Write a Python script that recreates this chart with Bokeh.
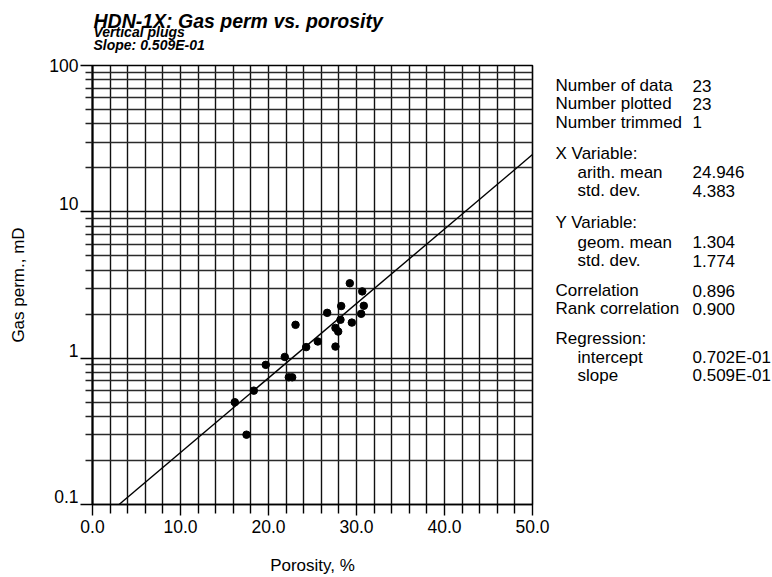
import math
from bokeh.plotting import figure
from bokeh.layouts import column, row
from bokeh.models import Range1d, FixedTicker, PrintfTickFormatter
from bokeh.core.properties import value
from bokeh.embed import file_html
from bokeh.resources import INLINE

# ---------------- data ----------------
porosity = [29.24, 30.65, 30.83, 30.53, 28.26, 26.67, 28.18, 29.47, 27.61, 27.92,
            23.07, 25.60, 24.28, 27.61, 21.85, 19.69, 22.31, 22.69, 18.33, 16.17, 17.50]
gas_perm = [3.25, 2.86, 2.28, 2.01, 2.27, 2.04, 1.83, 1.75, 1.61, 1.52,
            1.69, 1.30, 1.19, 1.20, 1.02, 0.90, 0.74, 0.74, 0.60, 0.50, 0.30]

reg_intercept = 0.0702   # permeability at porosity 0
reg_slope = 0.0509       # log10 units per % porosity

x_ticks = [0, 10, 20, 30, 40, 50]
x_minor = [2, 4, 6, 8, 12, 14, 16, 18, 22, 24, 26, 28, 32, 34, 36, 38, 42, 44, 46, 48]
y_ticks = [0.1, 1, 10, 100]
y_tick_labels = ["0.1", "1", "10", "100"]
y_minor = [0.2, 0.3, 0.4, 0.5, 0.6, 0.7, 0.8, 0.9,
           2, 3, 4, 5, 6, 7, 8, 9,
           20, 30, 40, 50, 60, 70, 80, 90]

title_text = "HDN-1X: Gas perm vs. porosity"
subtitle_1 = "Vertical plugs"
subtitle_2 = "Slope:  0.509E-01"

stat_names = ["Number of data", "Number plotted", "Number trimmed",
              "X Variable:", "arith. mean", "std. dev.",
              "Y Variable:", "geom. mean", "std. dev.",
              "Correlation", "Rank correlation",
              "Regression:", "intercept", "slope"]
stat_values = ["23", "23", "1",
               "", "24.946", "4.383",
               "", "1.304", "1.774",
               "0.896", "0.900",
               "", "0.702E-01", "0.509E-01"]
stat_indent = [False, False, False, False, True, True, False, True, True,
               False, False, False, True, True]

FONT = "Liberation Sans"

# ---------------- layout constants (px) ----------------
HEAD_H = 55
HEAD_SHIFT = 5                      # the header frame starts a few px below its top
MAIN_W = 552
TOTAL_W = 772
TOTAL_H = 577
BODY_H = TOTAL_H - HEAD_H
STATS_W = TOTAL_W - MAIN_W
FRAME_L, FRAME_W = 92, 440
FRAME_T, FRAME_H = 10, 439          # inside the body strip
FRAME_B = BODY_H - FRAME_T - FRAME_H
# title baselines, px from the page top
title_rows_px = [25, 36.5, 49]
# baselines of stats rows, px below the top of the chart frame
stat_rows_px = [20, 38.3, 56.7, 88, 106.7, 125, 157, 176.5, 195, 225, 243.3, 273.3, 291.7, 310]
stat_x_name, stat_x_indent, stat_x_value = 3, 25, 140

# ---------------- header (titles) ----------------
head = figure(width=TOTAL_W, height=HEAD_H, output_backend="svg", toolbar_location=None,
              title_location=None,
              x_range=Range1d(0, FRAME_W), y_range=Range1d(HEAD_H, 0),
              x_axis_location=None, y_axis_location=None,
              min_border_left=FRAME_L, min_border_right=TOTAL_W - FRAME_L - FRAME_W,
              min_border_top=0, min_border_bottom=0)
head.grid.visible = False
head.outline_line_color = None
head.background_fill_color = "white"
head.border_fill_color = "white"
head.text(x=[1], y=[title_rows_px[0] - HEAD_SHIFT], text=[title_text], text_font=value(FONT),
          text_font_size=value("19.5px"), text_font_style="bold italic",
          text_color="black", text_baseline=value("alphabetic"))
head.text(x=[1, 1], y=[r - HEAD_SHIFT for r in title_rows_px[1:]], text=[subtitle_1, subtitle_2],
          text_font=value(FONT), text_font_size=value("14px"), text_font_style="bold italic",
          text_color="black", text_baseline=value("alphabetic"))

# ---------------- main chart ----------------
p = figure(width=MAIN_W, height=BODY_H, output_backend="svg", toolbar_location=None,
           x_range=Range1d(0, 50), y_range=Range1d(0.1, 100), y_axis_type="log",
           min_border_left=FRAME_L, min_border_right=MAIN_W - FRAME_L - FRAME_W,
           min_border_top=FRAME_T, min_border_bottom=FRAME_B)
p.background_fill_color = "white"
p.border_fill_color = "white"
p.outline_line_color = "black"
p.outline_line_width = 1.6

xa = p.xaxis[0]
xa.ticker = FixedTicker(ticks=x_ticks, minor_ticks=x_minor)
xa.formatter = PrintfTickFormatter(format="%.1f")
xa.axis_line_color = "black"
xa.axis_line_width = 1.6
xa.major_tick_out = 11
xa.major_tick_in = 0
xa.minor_tick_out = 9
xa.minor_tick_in = 0
xa.major_tick_line_color = "black"
xa.minor_tick_line_color = "black"
xa.major_tick_line_width = 1.4
xa.minor_tick_line_width = 1.4
xa.major_label_text_font = FONT
xa.major_label_text_font_size = "17.5px"
xa.major_label_text_color = "black"
xa.major_label_standoff = 4
xa.axis_label = "Porosity, %"
xa.axis_label_text_font = FONT
xa.axis_label_text_font_size = "17px"
xa.axis_label_text_font_style = "normal"
xa.axis_label_text_color = "black"
xa.axis_label_standoff = 20

ya = p.yaxis[0]
ya.ticker = FixedTicker(ticks=y_ticks, minor_ticks=y_minor)
# a trailing empty line lifts each label so that it sits on its grid line
ya.major_label_overrides = {t: s + "\n" for t, s in zip(y_ticks, y_tick_labels)}
ya.major_label_text_line_height = 0.75
ya.axis_line_color = "black"
ya.axis_line_width = 2
ya.major_tick_out = 12
ya.major_tick_in = 0
ya.minor_tick_out = 7
ya.minor_tick_in = 0
ya.major_tick_line_color = "black"
ya.minor_tick_line_color = "#222222"
ya.major_tick_line_width = 1.6
ya.minor_tick_line_width = 1.3
ya.major_label_standoff = 2
ya.major_label_text_font = FONT
ya.major_label_text_font_size = "17.5px"
ya.major_label_text_color = "black"
ya.axis_label = "Gas perm., mD"
ya.axis_label_text_font = FONT
ya.axis_label_text_font_size = "17px"
ya.axis_label_text_font_style = "normal"
ya.axis_label_text_color = "black"
ya.axis_label_standoff = 18

p.xgrid.grid_line_color = "#111111"
p.xgrid.grid_line_width = 1.4
p.xgrid.minor_grid_line_color = "#111111"
p.xgrid.minor_grid_line_width = 1.4
p.ygrid.grid_line_color = "#111111"
p.ygrid.grid_line_width = 1.6
p.ygrid.minor_grid_line_color = "#2a2a2a"
p.ygrid.minor_grid_line_width = 1.3

# regression line from the stated intercept and slope
x_start = (math.log10(y_ticks[0]) - math.log10(reg_intercept)) / reg_slope
line_x = [x_start, x_ticks[-1]]
line_y = [reg_intercept * 10 ** (reg_slope * xv) for xv in line_x]
p.line(line_x, line_y, line_color="black", line_width=1.4)

p.scatter(porosity, gas_perm, size=7.5, marker="circle", fill_color="black", line_color="black")

# ---------------- statistics panel (frame aligned with the chart frame) ----------------
st = figure(width=STATS_W, height=BODY_H, output_backend="svg", toolbar_location=None,
            title_location=None,
            x_range=Range1d(0, STATS_W), y_range=Range1d(FRAME_H, 0),
            x_axis_location=None, y_axis_location=None,
            min_border_left=0, min_border_right=0,
            min_border_top=FRAME_T, min_border_bottom=FRAME_B)
st.grid.visible = False
st.outline_line_color = None
st.background_fill_color = "white"
st.border_fill_color = "white"
name_x = [stat_x_indent if ind else stat_x_name for ind in stat_indent]
st.text(x=name_x, y=stat_rows_px, text=stat_names, text_font=value(FONT),
        text_font_size=value("17px"), text_color="black", text_baseline=value("alphabetic"))
vals = [(v, r) for v, r in zip(stat_values, stat_rows_px) if v]
st.text(x=[stat_x_value] * len(vals), y=[r for _, r in vals], text=[v for v, _ in vals],
        text_font=value(FONT), text_font_size=value("17px"), text_color="black",
        text_baseline=value("alphabetic"))

layout = column(head, row(p, st, spacing=0), spacing=0)
open("out.html", "w").write(file_html(layout, INLINE))
